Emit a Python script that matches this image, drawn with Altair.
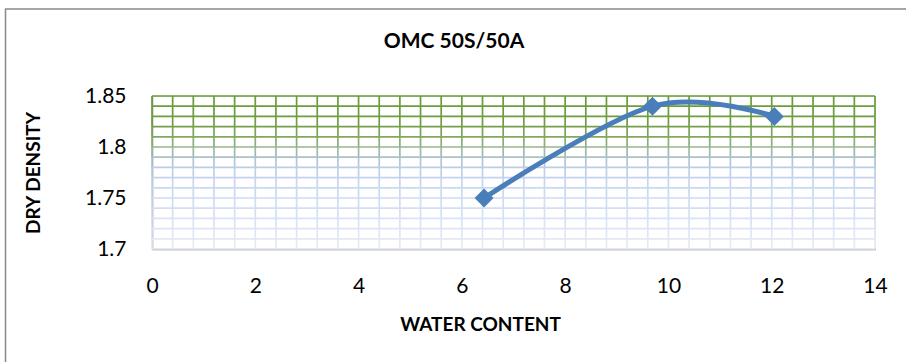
import altair as alt
import numpy as np
import pandas as pd

# data
water = [6.43, 9.69, 12.05]
density = [1.75, 1.84, 1.83]

chart_title = ["OMC 50S/50A"]
x_ticks = [0, 2, 4, 6, 8, 10, 12, 14]
y_ticks = [1.7, 1.75, 1.8, 1.85]
x_minor_step = 0.4
y_minor_step = 0.01

df = pd.DataFrame({"water": water, "density": density})

gx = np.round(np.arange(0, 14.0001, x_minor_step), 3)
gy = np.round(np.arange(1.70, 1.85001, y_minor_step), 3)

h_df = pd.DataFrame({"y": gy, "x0": 0.0, "x1": 14.0, "c": gy})
rows = []
for xv in gx:
    for i in range(len(gy) - 1):
        rows.append({"x": xv, "y0": gy[i], "y1": gy[i + 1], "c": (gy[i] + gy[i + 1]) / 2})
v_df = pd.DataFrame(rows)

FONT = "Lato"
xscale = alt.Scale(domain=[0, 14], nice=False, zero=False)
yscale = alt.Scale(domain=[1.7, 1.85], nice=False, zero=False)
cscale = alt.Scale(domain=[1.70, 1.765, 1.78, 1.79, 1.80, 1.81, 1.825, 1.85],
                   range=["#e6ecf7", "#c8d6ef", "#bccde6", "#aac2c0", "#98b58a",
                          "#80a85e", "#6e9e3e", "#6a9c38"])

xaxis = alt.Axis(values=x_ticks, grid=False, ticks=False, domainColor="#868686",
                 domainWidth=1.5, labelFont=FONT, labelFontSize=21, labelColor="#000",
                 labelPadding=26, labelFlush=False,
                 title="WATER CONTENT", titleFont=FONT, titleFontSize=19,
                 titleFontWeight="bold", titleColor="#000",
                 titleX=328, titleY=75, titleAlign="center", titleBaseline="middle")
yaxis = alt.Axis(values=y_ticks, grid=False, ticks=False, domainColor="#868686",
                 domainWidth=1.5, labelFont=FONT, labelFontSize=21, labelColor="#000",
                 labelPadding=26, format=".3~f",
                 title="DRY DENSITY", titleFont=FONT, titleFontSize=19,
                 titleFontWeight="bold", titleColor="#000",
                 titleX=-119, titleY=76.5, titleAlign="center", titleBaseline="middle",
                 titleAngle=-90)

vgrid = alt.Chart(v_df).mark_rule(strokeWidth=1.7).encode(
    x=alt.X("x:Q", scale=xscale, axis=xaxis),
    y=alt.Y("y0:Q", scale=yscale, axis=yaxis),
    y2="y1:Q",
    color=alt.Color("c:Q", scale=cscale, legend=None),
)
hgrid = alt.Chart(h_df).mark_rule(strokeWidth=1.7).encode(
    x=alt.X("x0:Q", scale=xscale, axis=xaxis),
    x2="x1:Q",
    y=alt.Y("y:Q", scale=yscale, axis=yaxis),
    color=alt.Color("c:Q", scale=cscale, legend=None),
)

line = alt.Chart(df).mark_line(color="#4a7ebb", strokeWidth=5, interpolate="cardinal").encode(
    x=alt.X("water:Q", scale=xscale, axis=xaxis),
    y=alt.Y("density:Q", scale=yscale, axis=yaxis),
)
pts = alt.Chart(df).mark_point(shape="diamond", filled=True, size=360, color="#4a7ebb", opacity=1).encode(
    x=alt.X("water:Q", scale=xscale, axis=xaxis),
    y=alt.Y("density:Q", scale=yscale, axis=yaxis),
)

one = pd.DataFrame({"a": [0]})
frame_left = alt.Chart(one).mark_rule(color="#888888", strokeWidth=1.5).encode(
    x=alt.value(-146.5), y=alt.value(-87), y2=alt.value(300))
frame_top = alt.Chart(one).mark_rule(color="#888888", strokeWidth=1.5).encode(
    x=alt.value(-147), x2=alt.value(800), y=alt.value(-87))

title_df = pd.DataFrame({"t": chart_title})
title = alt.Chart(title_df).mark_text(font=FONT, fontSize=21, fontWeight="bold",
                                      color="#000", align="center", baseline="middle").encode(
    text="t:N", x=alt.value(302), y=alt.value(-54))

chart = alt.layer(vgrid, hgrid, line, pts, frame_left, frame_top, title).resolve_scale(
    color="shared"
).properties(
    width=723, height=153,
    autosize=alt.AutoSizeParams(type="none"),
    padding={"left": 152, "top": 96, "right": 31, "bottom": 113},
).configure_view(stroke=None).configure(background="white")

chart.save("out.html", embed_options={"renderer": "svg", "actions": False})
